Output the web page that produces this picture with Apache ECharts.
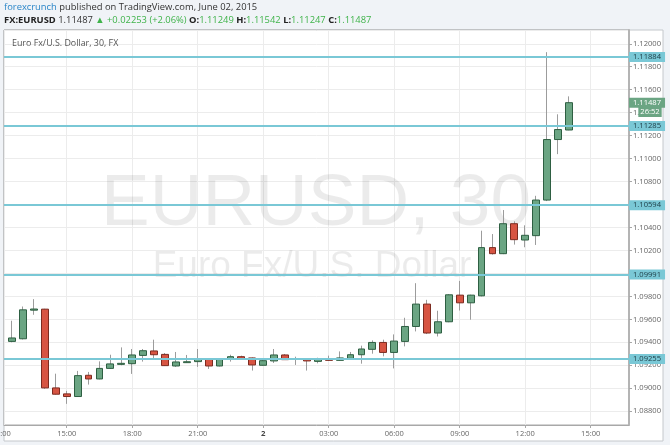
<!DOCTYPE html>
<html>
<head>
<meta charset="utf-8">
<script src="https://cdn.jsdelivr.net/npm/echarts@6/dist/echarts.min.js"></script>
<style>
html,body{margin:0;padding:0;background:#f0f3f7;}
#c{width:670px;height:445px;}
</style>
</head>
<body>
<div id="c"></div>
<script>
// 30-minute candles, June 1 12:30 -> June 2 14:00 (day hh:mm)
const times = ['1 12:30','1 13:00','1 13:30','1 14:00','1 14:30','1 15:00','1 15:30','1 16:00','1 16:30','1 17:00',
  '1 17:30','1 18:00','1 18:30','1 19:00','1 19:30','1 20:00','1 20:30','1 21:00','1 21:30','1 22:00',
  '1 22:30','1 23:00','1 23:30','2 00:00','2 00:30','2 01:00','2 01:30','2 02:00','2 02:30','2 03:00',
  '2 03:30','2 04:00','2 04:30','2 05:00','2 05:30','2 06:00','2 06:30','2 07:00','2 07:30','2 08:00',
  '2 08:30','2 09:00','2 09:30','2 10:00','2 10:30','2 11:00','2 11:30','2 12:00','2 12:30','2 13:00',
  '2 13:30','2 14:00'];
const opens = [1.09408,1.09431,1.09680,1.09689,1.09003,1.08951,1.08928,1.09113,1.09081,1.09173,
  1.09208,1.09214,1.09286,1.09325,1.09295,1.09194,1.09223,1.09232,1.09258,1.09194,
  1.09255,1.09275,1.09264,1.09200,1.09238,1.09290,1.09252,1.09255,1.09234,1.09258,
  1.09243,1.09260,1.09292,1.09339,1.09399,1.09312,1.09408,1.09538,1.09733,1.09481,
  1.09579,1.09811,1.09744,1.09805,1.10225,1.10172,1.10433,1.10291,1.10329,1.10639,
  1.11166,1.11249];
const highs = [1.09588,1.09712,1.09776,1.09692,1.09127,1.08977,1.09151,1.09142,1.09234,1.09292,
  1.09356,1.09342,1.09342,1.09423,1.09307,1.09316,1.09290,1.09342,1.09262,1.09262,
  1.09292,1.09284,1.09268,1.09255,1.09342,1.09298,1.09275,1.09258,1.09266,1.09284,
  1.09321,1.09316,1.09371,1.09417,1.09423,1.09469,1.09614,1.09915,1.09770,1.09675,
  1.09820,1.09935,1.09815,1.10372,1.10343,1.10552,1.10454,1.10419,1.10676,1.11927,
  1.11386,1.11542];
const lows = [1.09400,1.09425,1.09640,1.08995,1.08945,1.08864,1.08925,1.09032,1.09078,1.09168,
  1.09200,1.09125,1.09232,1.09258,1.09195,1.09186,1.09220,1.09186,1.09168,1.09190,
  1.09232,1.09246,1.09154,1.09198,1.09220,1.09247,1.09203,1.09154,1.09217,1.09238,
  1.09241,1.09258,1.09214,1.09301,1.09278,1.09173,1.09365,1.09495,1.09472,1.09451,
  1.09575,1.09677,1.09597,1.09800,1.10164,1.10168,1.10251,1.10228,1.10248,1.10630,
  1.11039,1.11247];
const closes = [1.09438,1.09683,1.09690,1.09003,1.08948,1.08928,1.09110,1.09081,1.09173,1.09212,
  1.09217,1.09290,1.09327,1.09292,1.09197,1.09229,1.09231,1.09258,1.09194,1.09258,
  1.09275,1.09260,1.09203,1.09240,1.09290,1.09249,1.09255,1.09238,1.09255,1.09243,
  1.09264,1.09292,1.09342,1.09399,1.09312,1.09411,1.09538,1.09733,1.09481,1.09579,
  1.09814,1.09744,1.09811,1.10225,1.10172,1.10433,1.10294,1.10332,1.10639,1.11166,
  1.11253,1.11487];
const levels = [1.11884, 1.11285, 1.10594, 1.09991, 1.09255];
const lastPrice = 1.11487;

const FONT = 'Open Sans';
function toHours(t) {
  const [d, hm] = t.split(' ');
  const [h, m] = hm.split(':').map(Number);
  return (Number(d) - 1) * 24 + h + m / 60;
}
const wickData = times.map((t, i) => [toHours(t), opens[i], closes[i], lows[i], highs[i]]);
const bodyData = times.map((t, i) => [toHours(t), opens[i], closes[i],
  Math.min(opens[i], closes[i]), Math.max(opens[i], closes[i])]);

const chart = echarts.init(document.getElementById('c'), null, {renderer: 'canvas'});
const labelColor = '#666';
const option = {
  backgroundColor: '#f0f3f7',
  animation: false,
  grid: {left: 4, top: 30, right: 41, bottom: 20, show: true, borderColor: '#a8a8a8', borderWidth: 1, backgroundColor: 'transparent'},
  xAxis: {
    type: 'value', min: 12.128, max: 40.755, splitNumber: 9, minInterval: 3, maxInterval: 3,
    axisLine: {show: true, lineStyle: {color: '#a8a8a8'}},
    axisTick: {show: true, length: 3, lineStyle: {color: '#a8a8a8'}},
    axisLabel: {
      showMinLabel: false, showMaxLabel: false, margin: 5, color: labelColor, fontSize: 7.5, fontFamily: FONT,
      formatter: function (v) {
        const h = Math.round(v);
        if (h === 24) return '{b|2}';
        const hh = h % 24;
        return (hh < 10 ? '0' : '') + hh + ':00';
      },
      rich: {b: {fontWeight: 'bold', color: '#444', fontSize: 7.8, fontFamily: FONT}}
    },
    splitLine: {show: true, lineStyle: {color: '#ececec'}}
  },
  yAxis: {
    type: 'value', position: 'right', min: 1.0868, max: 1.1212, splitNumber: 17, minInterval: 0.002, maxInterval: 0.002,
    axisLine: {show: true, lineStyle: {color: '#b4b4b4', width: 2}},
    axisTick: {show: true, length: 3, lineStyle: {color: '#a8a8a8'}},
    axisLabel: {
      showMinLabel: false, showMaxLabel: false, margin: 4, color: labelColor, fontSize: 7.6, fontFamily: FONT,
      formatter: v => v.toFixed(5)
    },
    splitLine: {show: true, lineStyle: {color: '#ececec'}}
  },
  series: [
    {
      type: 'candlestick', name: 'wick', data: wickData, encode: {x: 0, y: [1, 2, 3, 4]},
      barWidth: 1, z: 2,
      itemStyle: {color: '#9c9c9c', color0: '#9c9c9c', borderColor: '#9c9c9c', borderColor0: '#9c9c9c', borderWidth: 1}
    },
    {
      type: 'candlestick', name: 'body', data: bodyData, encode: {x: 0, y: [1, 2, 3, 4]},
      barWidth: 7.3, z: 3,
      itemStyle: {color: '#6ba583', color0: '#d75442', borderColor: '#2e5f42', borderColor0: '#7c2b20', borderWidth: 1},
      markLine: {
        symbol: 'none', silent: true, animation: false, precision: 5,
        lineStyle: {color: '#7ac8d6', width: 2, type: 'solid'},
        label: {
          position: 'end', distance: 0, formatter: p => Number(p.value).toFixed(5),
          backgroundColor: '#7ac8d6', color: '#1d3c45', fontSize: 7.6, fontFamily: FONT, padding: [1, 4, 1, 4]
        },
        data: levels.map(v => ({yAxis: v})).concat([{
          yAxis: lastPrice, lineStyle: {color: 'rgba(0,0,0,0)', width: 0},
          label: {show: true, backgroundColor: '#6ba583', color: '#ffffff'}
        }])
      }
    }
  ],
  graphic: [
    {type: 'rect', z: -10, shape: {x: 4, y: 30, width: 659, height: 411}, style: {fill: '#ffffff', stroke: '#c4c8cc', lineWidth: 1}},
    {type: 'text', z: 1, x: 316, y: 205, style: {text: 'EURUSD, 30', align: 'center', verticalAlign: 'middle', fontSize: 73, fontFamily: 'Liberation Sans', fill: 'rgba(0,0,0,0.08)'}},
    {type: 'text', z: 1, x: 312, y: 267, style: {text: 'Euro Fx/U.S. Dollar', align: 'center', verticalAlign: 'middle', fontSize: 37, fontFamily: 'Liberation Sans', fill: 'rgba(0,0,0,0.08)'}},
    {type: 'text', z: 5, x: 12, y: 43, style: {text: 'Euro Fx/U.S. Dollar, 30, FX', verticalAlign: 'middle', fontSize: 8.9, fontFamily: FONT, fill: '#555'}},
    {type: 'text', z: 5, x: 4, y: 7, style: {
      text: '{a|forexcrunch} published on TradingView.com, June 02, 2015', verticalAlign: 'middle',
      fontSize: 9.4, fontFamily: FONT, fill: '#333',
      rich: {a: {fill: '#2b86c8', fontSize: 9.4, fontFamily: FONT}}
    }},
    {type: 'text', z: 5, x: 4, y: 20, style: {
      text: '{b|FX:EURUSD} 1.11487 {g|▲} {g|+0.02253 (+2.06%)} {b|O:}{g|1.11249} {b|H:}{g|1.11542} {b|L:}{g|1.11247} {b|C:}{g|1.11487}',
      verticalAlign: 'middle', fontSize: 9.4, fontFamily: FONT, fill: '#333',
      rich: {
        b: {fontWeight: 'bold', fill: '#222', fontSize: 9.4, fontFamily: FONT},
        g: {fill: '#3fb34a', fontSize: 9.4, fontFamily: FONT}
      }
    }},
    {type: 'text', z: 100, x: 650, y: 112, style: {text: '26:52', align: 'center', verticalAlign: 'middle', fontSize: 7.6, fontFamily: FONT, fill: '#ffffff', backgroundColor: '#6ba583', padding: [1, 2, 1, 2]}},
    {type: 'text', z: 5, x: 1.2, y: 433.5, style: {text: '12:00', align: 'center', verticalAlign: 'middle', fontSize: 7.5, fontFamily: FONT, fill: labelColor}}
  ]
};
chart.setOption(option);
</script>
</body>
</html>
